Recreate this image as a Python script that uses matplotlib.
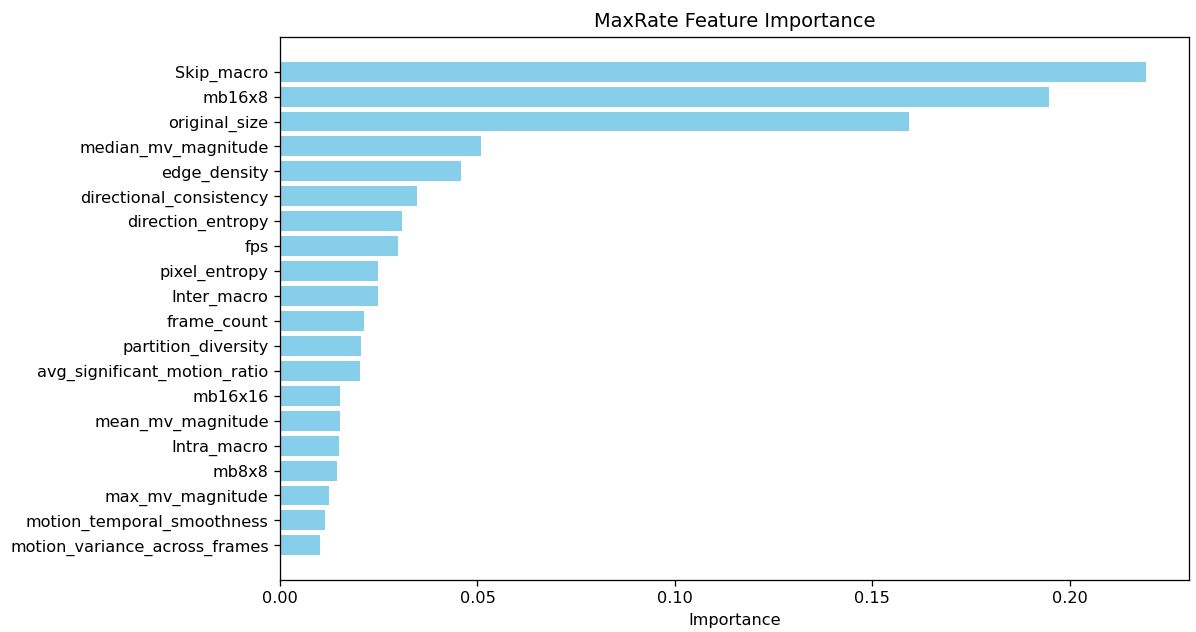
import matplotlib
matplotlib.use("Agg")
import matplotlib.pyplot as plt

# Feature importances for the MaxRate model, sorted high to low
features = [
    "Skip_macro", "mb16x8", "original_size", "median_mv_magnitude",
    "edge_density", "directional_consistency", "direction_entropy", "fps",
    "pixel_entropy", "Inter_macro", "frame_count", "partition_diversity",
    "avg_significant_motion_ratio", "mb16x16", "mean_mv_magnitude",
    "Intra_macro", "mb8x8", "max_mv_magnitude",
    "motion_temporal_smoothness", "motion_variance_across_frames",
]
importances = [
    0.2192, 0.1946, 0.1592, 0.0510,
    0.0459, 0.0348, 0.0309, 0.0298,
    0.0248, 0.0248, 0.0212, 0.0206,
    0.0203, 0.0153, 0.0153,
    0.0150, 0.0144, 0.0123,
    0.0114, 0.0102,
]

W, H = 1196, 632
DPI = 116
fig = plt.figure(figsize=(W / DPI, H / DPI), dpi=DPI)
ax = fig.add_axes([280 / W, (H - 580) / H, 909 / W, 543 / H])

ax.barh(features, importances, color="skyblue")
ax.invert_yaxis()
ax.set_xlabel("Importance")
ax.set_title("MaxRate Feature Importance")

fig.savefig("out.png", dpi=DPI)
